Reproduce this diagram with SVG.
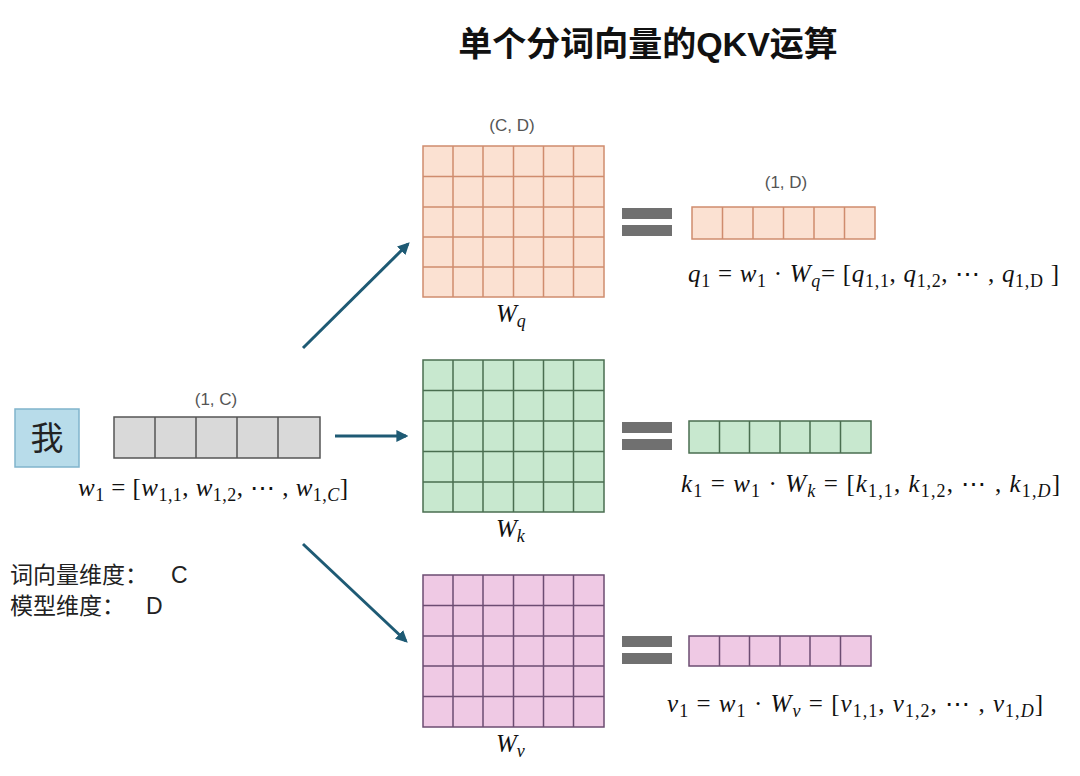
<svg xmlns="http://www.w3.org/2000/svg" width="1080" height="776" viewBox="0 0 1080 776">
<style>
.title{font-family:"Liberation Sans","Noto Sans CJK SC",sans-serif;font-size:34px;font-weight:bold;fill:#111}
.cjk{font-family:"Liberation Sans","Noto Sans CJK SC",sans-serif;fill:#222}
.dim{font-family:"Liberation Sans","Noto Sans CJK SC",sans-serif;font-size:17px;fill:#555}
.m{font-family:"Liberation Serif","DejaVu Serif",serif;font-size:25px;fill:#111}
.i{font-style:italic}
.s{font-size:18px}
.conn{stroke:#1e5a74;stroke-width:3;fill:none}
.eq{fill:#707070}
.gq{fill:#fbe1d2;stroke:#cf8c6e;stroke-width:1.5}
.gk{fill:#c8e8cf;stroke:#4a6e50;stroke-width:1.5}
.gv{fill:#efc9e4;stroke:#6c4c72;stroke-width:1.5}
.gw{fill:#d9d9d9;stroke:#555;stroke-width:1.5}
</style>
<defs>
<marker id="ah" viewBox="0 0 10 10" refX="8" refY="5" markerWidth="4" markerHeight="4" orient="auto" markerUnits="strokeWidth">
<path d="M0,0 L10,5 L0,10 z" fill="#1e5a74"/>
</marker>
</defs>
<rect width="1080" height="776" fill="#ffffff"/>
<text class="title" x="648" y="56" text-anchor="middle">单个分词向量的QKV运算</text>

<g id="word">
<rect x="15" y="409" width="64" height="58" fill="#b8dcea" stroke="#80b4cc" stroke-width="1.5"/>
<text class="cjk" x="47" y="450" font-size="33" text-anchor="middle">我</text>
</g>

<g id="w1">
<text class="dim" x="216" y="405" text-anchor="middle">(1, C)</text>
<rect class="gw" x="114" y="417" width="206" height="41"/>
<path class="gw" fill="none" d="M155,417V458M196,417V458M237,417V458M278,417V458"/>
<text class="m" x="78" y="496" textLength="270" lengthAdjust="spacing"><tspan class="i">w</tspan><tspan class="s" dy="5">1</tspan><tspan dy="-5"> = [</tspan><tspan class="i">w</tspan><tspan class="s" dy="5">1,1</tspan><tspan dy="-5">, </tspan><tspan class="i">w</tspan><tspan class="s" dy="5">1,2</tspan><tspan dy="-5">, ⋯ , </tspan><tspan class="i">w</tspan><tspan class="s" dy="5">1,</tspan><tspan class="s i">C</tspan><tspan dy="-5">]</tspan></text>
</g>

<g id="legend">
<text class="cjk" x="10" y="583" font-size="23">词向量维度：<tspan x="171">C</tspan></text>
<text class="cjk" x="10" y="614" font-size="23">模型维度：<tspan x="146">D</tspan></text>
</g>

<g id="connectors">
<path class="conn" d="M303,348L408,244" marker-end="url(#ah)"/>
<path class="conn" d="M335,436L406,436" marker-end="url(#ah)"/>
<path class="conn" d="M303,544L406,641" marker-end="url(#ah)"/>
</g>

<g id="Wq">
<text class="dim" x="512" y="131" text-anchor="middle">(C, D)</text>
<rect class="gq" x="423" y="146" width="181" height="151"/>
<path class="gq" fill="none" d="M453,146V297M483,146V297M513.5,146V297M543.5,146V297M573.5,146V297M423,176.5H604M423,207H604M423,237H604M423,267H604"/>
<text class="m" x="496" y="322" font-size="26"><tspan class="i">W</tspan><tspan class="s i" dy="5">q</tspan></text>
</g>

<g id="Wk">
<rect class="gk" x="423" y="360" width="181" height="152"/>
<path class="gk" fill="none" d="M453,360V512M483,360V512M513.5,360V512M543.5,360V512M573.5,360V512M423,390.5H604M423,421H604M423,451.5H604M423,482H604"/>
<text class="m" x="496" y="537" font-size="26"><tspan class="i">W</tspan><tspan class="s i" dy="5">k</tspan></text>
</g>

<g id="Wv">
<rect class="gv" x="423" y="575" width="181" height="152"/>
<path class="gv" fill="none" d="M453,575V727M483,575V727M513.5,575V727M543.5,575V727M573.5,575V727M423,605.5H604M423,636H604M423,666H604M423,696.5H604"/>
<text class="m" x="496" y="752" font-size="26"><tspan class="i">W</tspan><tspan class="s i" dy="5">v</tspan></text>
</g>

<g id="q1">
<rect class="eq" x="622" y="208" width="50" height="11"/>
<rect class="eq" x="622" y="225" width="50" height="11"/>
<text class="dim" x="786" y="188" text-anchor="middle">(1, D)</text>
<rect class="gq" x="692" y="207" width="183" height="32"/>
<path class="gq" fill="none" d="M722.5,207V239M753,207V239M783.5,207V239M814,207V239M844.5,207V239"/>
<text class="m" x="688" y="282" textLength="371" lengthAdjust="spacing"><tspan class="i">q</tspan><tspan class="s" dy="5">1</tspan><tspan dy="-5"> = </tspan><tspan class="i">w</tspan><tspan class="s" dy="5">1</tspan><tspan dy="-5"> · </tspan><tspan class="i">W</tspan><tspan class="s i" dy="5">q</tspan><tspan dy="-5">= [</tspan><tspan class="i">q</tspan><tspan class="s" dy="5">1,1</tspan><tspan dy="-5">, </tspan><tspan class="i">q</tspan><tspan class="s" dy="5">1,2</tspan><tspan dy="-5">, ⋯ , </tspan><tspan class="i">q</tspan><tspan class="s" dy="5">1,D</tspan><tspan dy="-5"> ]</tspan></text>
</g>

<g id="k1">
<rect class="eq" x="622" y="422" width="50" height="11"/>
<rect class="eq" x="622" y="439" width="50" height="11"/>
<rect class="gk" x="689" y="421" width="182" height="32"/>
<path class="gk" fill="none" d="M719.5,421V453M749.5,421V453M780,421V453M810,421V453M840.5,421V453"/>
<text class="m" x="681" y="492" textLength="379" lengthAdjust="spacing"><tspan class="i">k</tspan><tspan class="s" dy="5">1</tspan><tspan dy="-5"> = </tspan><tspan class="i">w</tspan><tspan class="s" dy="5">1</tspan><tspan dy="-5"> · </tspan><tspan class="i">W</tspan><tspan class="s i" dy="5">k</tspan><tspan dy="-5"> = [</tspan><tspan class="i">k</tspan><tspan class="s" dy="5">1,1</tspan><tspan dy="-5">, </tspan><tspan class="i">k</tspan><tspan class="s" dy="5">1,2</tspan><tspan dy="-5">, ⋯ , </tspan><tspan class="i">k</tspan><tspan class="s" dy="5">1,</tspan><tspan class="s i">D</tspan><tspan dy="-5">]</tspan></text>
</g>

<g id="v1">
<rect class="eq" x="622" y="636" width="50" height="11"/>
<rect class="eq" x="622" y="653" width="50" height="11"/>
<rect class="gv" x="689" y="636" width="182" height="30"/>
<path class="gv" fill="none" d="M719.5,636V666M749.5,636V666M780,636V666M810,636V666M840.5,636V666"/>
<text class="m" x="667" y="712" textLength="376" lengthAdjust="spacing"><tspan class="i">v</tspan><tspan class="s" dy="5">1</tspan><tspan dy="-5"> = </tspan><tspan class="i">w</tspan><tspan class="s" dy="5">1</tspan><tspan dy="-5"> · </tspan><tspan class="i">W</tspan><tspan class="s i" dy="5">v</tspan><tspan dy="-5"> = [</tspan><tspan class="i">v</tspan><tspan class="s" dy="5">1,1</tspan><tspan dy="-5">, </tspan><tspan class="i">v</tspan><tspan class="s" dy="5">1,2</tspan><tspan dy="-5">, ⋯ , </tspan><tspan class="i">v</tspan><tspan class="s" dy="5">1,</tspan><tspan class="s i">D</tspan><tspan dy="-5">]</tspan></text>
</g>
</svg>
